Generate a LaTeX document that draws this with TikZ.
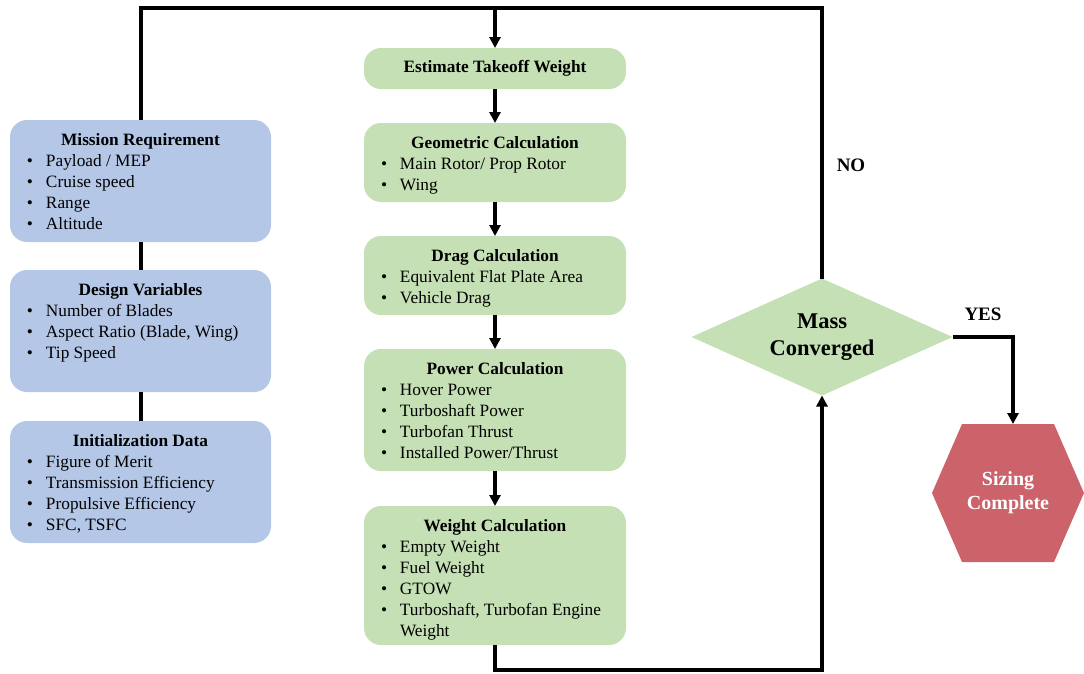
\documentclass[tikz,border=0pt]{standalone}
\usepackage{fontspec}
\setmainfont{Liberation Serif}
\usetikzlibrary{arrows.meta,shapes.geometric}
\definecolor{bluefill}{HTML}{B4C7E7}
\definecolor{greenfill}{HTML}{C5E0B4}
\definecolor{redfill}{HTML}{CC626A}
\newcommand\itm[1]{\par\hspace*{17pt}\makebox[19pt][l]{\textbullet}#1}
\newcommand\boxtext[4]{\begin{minipage}[c][#1][t]{#2}\vspace*{13pt}\makebox[\linewidth]{\bfseries #3}#4\end{minipage}}
\tikzset{
  box/.style={rounded corners=17pt, inner sep=0pt, outer sep=0pt, font=\fontsize{17.3}{21}\selectfont},
  bluebox/.style={box, fill=bluefill},
  greenbox/.style={box, fill=greenfill},
  line/.style={line width=3.2pt},
  conn/.style={line width=3.2pt, -{Triangle[length=11pt,width=11pt]}},
  dia/.style={diamond, aspect=2.23, fill=greenfill, minimum width=261pt, minimum height=117pt, inner sep=0pt, outer sep=0pt, align=center, font=\fontsize{22.5}{27}\selectfont\bfseries},
  lbl/.style={font=\fontsize{19}{22}\selectfont\bfseries}
}
\begin{document}
\begin{tikzpicture}[x=1pt,y=-1pt]
\useasboundingbox (0,0) rectangle (1084,673);
% left column
\node[bluebox] (mission) at (140.5,181) {\boxtext{122pt}{261pt}{Mission Requirement}{%
  \itm{Payload / MEP}\itm{Cruise speed}\itm{Range}\itm{Altitude}}};
\node[bluebox] (design) at (140.5,331) {\boxtext{122pt}{261pt}{Design Variables}{%
  \itm{Number of Blades}\itm{Aspect Ratio (Blade, Wing)}\itm{Tip Speed}}};
\node[bluebox] (init) at (140.5,482) {\boxtext{122pt}{261pt}{Initialization Data}{%
  \itm{Figure of Merit}\itm{Transmission Efficiency}\itm{Propulsive Efficiency}\itm{SFC, TSFC}}};
% center column
\node[greenbox, minimum width=262pt, minimum height=41pt, font=\fontsize{17.3}{21}\selectfont\bfseries] (est) at (495,68.5) {Estimate Takeoff Weight};
\node[greenbox] (geo) at (495,162.5) {\boxtext{79pt}{262pt}{Geometric Calculation}{%
  \itm{Main Rotor/ Prop Rotor}\itm{Wing}}};
\node[greenbox] (drag) at (495,275.5) {\boxtext{79pt}{262pt}{Drag Calculation}{%
  \itm{Equivalent Flat Plate Area}\itm{Vehicle Drag}}};
\node[greenbox] (power) at (495,410) {\boxtext{122pt}{262pt}{Power Calculation}{%
  \itm{Hover Power}\itm{Turboshaft Power}\itm{Turbofan Thrust}\itm{Installed Power/Thrust}}};
\node[greenbox] (weight) at (495,575.5) {\boxtext{139pt}{262pt}{Weight Calculation}{%
  \itm{Empty Weight}\itm{Fuel Weight}\itm{GTOW}\itm{Turboshaft, Turbofan Engine}\par\hspace*{36pt}Weight}};
% decision
\node[dia] (dia) at (822,337) {Mass\\Converged};
% hexagon
\coordinate (hc) at (1008,493);
\fill[redfill] ([shift={(-76,0)}]hc) -- ([shift={(-46,-69)}]hc) -- ([shift={(46,-69)}]hc) -- ([shift={(76,0)}]hc) -- ([shift={(46,69)}]hc) -- ([shift={(-46,69)}]hc) -- cycle;
\node[minimum width=152pt, minimum height=138pt, inner sep=0pt, outer sep=0pt, align=center, text=white, font=\fontsize{20}{24}\selectfont\bfseries] (hex) at (hc) {Sizing\\Complete};
% connectors
\coordinate (tl) at (141,8);
\coordinate (tm) at (495,8);
\coordinate (tr) at (822,8);
\draw[line] (mission.north -| tl) -- (tl) -- (tr) -- (dia.north);
\draw[line] (mission.south -| tl) -- (design.north -| tl);
\draw[line] (design.south -| tl) -- (init.north -| tl);
\draw[conn] (tm) -- (est.north);
\draw[conn] (est) -- (geo);
\draw[conn] (geo) -- (drag);
\draw[conn] (drag) -- (power);
\draw[conn] (power) -- (weight);
\draw[conn] (weight.south) -- ++(0,25) -| (dia.south);
\draw[conn] (dia.east) -| ([xshift=5pt]hex.north);
% labels
\node[lbl] (no) at (851,165) {NO};
\node[lbl] (yes) at (983,314) {YES};
\end{tikzpicture}
\end{document}
